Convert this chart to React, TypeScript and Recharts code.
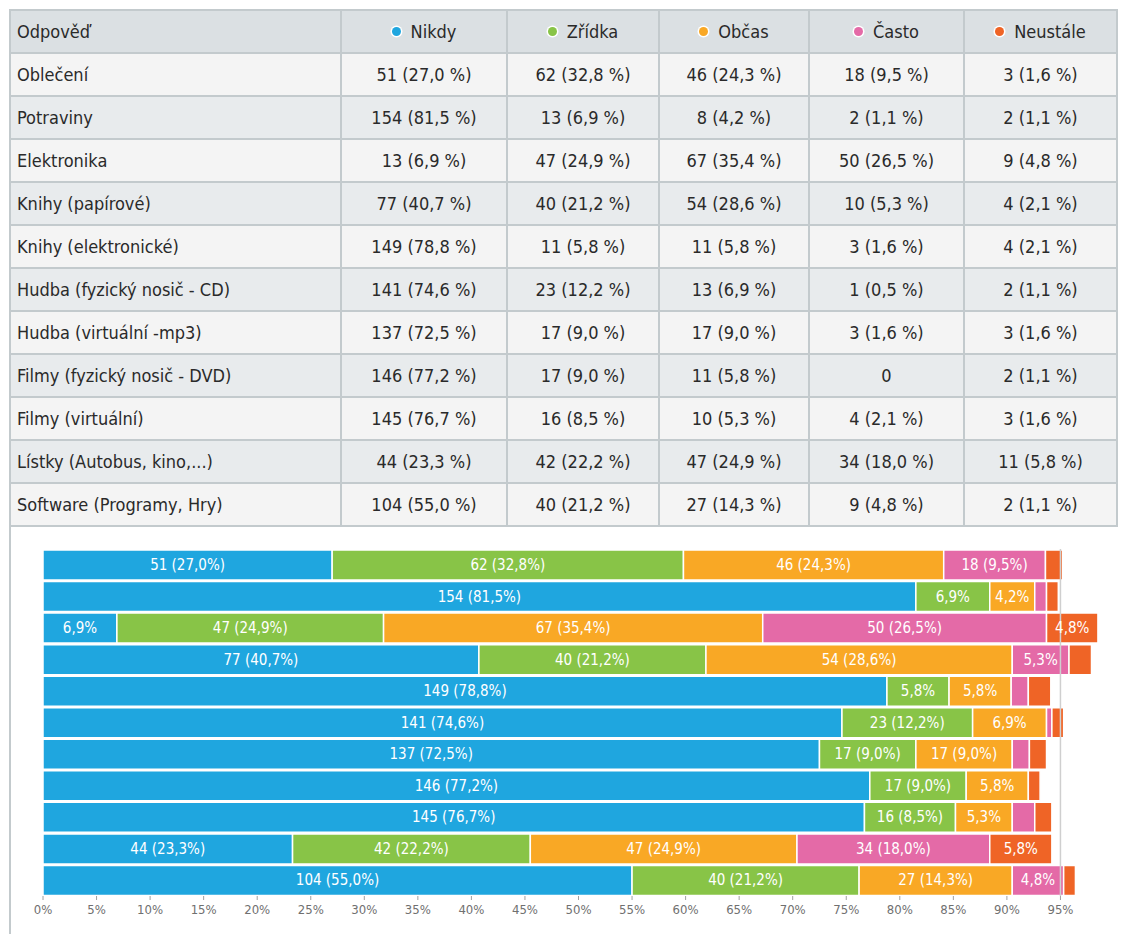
import React from "react";
import {
  Bar,
  BarChart,
  LabelList,
  ReferenceLine,
  XAxis,
  YAxis,
} from "recharts";

// Odpovědi z dotazníku, 189 respondentů
const categories = [
  "Oblečení",
  "Potraviny",
  "Elektronika",
  "Knihy (papírové)",
  "Knihy (elektronické)",
  "Hudba (fyzický nosič - CD)",
  "Hudba (virtuální -mp3)",
  "Filmy (fyzický nosič - DVD)",
  "Filmy (virtuální)",
  "Lístky (Autobus, kino,...)",
  "Software (Programy, Hry)",
];

const nikdyCount = [51, 154, 13, 77, 149, 141, 137, 146, 145, 44, 104];
const nikdyPct = [27.0, 81.5, 6.9, 40.7, 78.8, 74.6, 72.5, 77.2, 76.7, 23.3, 55.0];
const zridkaCount = [62, 13, 47, 40, 11, 23, 17, 17, 16, 42, 40];
const zridkaPct = [32.8, 6.9, 24.9, 21.2, 5.8, 12.2, 9.0, 9.0, 8.5, 22.2, 21.2];
const obcasCount = [46, 8, 67, 54, 11, 13, 17, 11, 10, 47, 27];
const obcasPct = [24.3, 4.2, 35.4, 28.6, 5.8, 6.9, 9.0, 5.8, 5.3, 24.9, 14.3];
const castoCount = [18, 2, 50, 10, 3, 1, 3, 0, 4, 34, 9];
const castoPct = [9.5, 1.1, 26.5, 5.3, 1.6, 0.5, 1.6, 0, 2.1, 18.0, 4.8];
const neustaleCount = [3, 2, 9, 4, 4, 2, 3, 2, 3, 11, 2];
const neustalePct = [1.6, 1.1, 4.8, 2.1, 2.1, 1.1, 1.6, 1.1, 1.6, 5.8, 1.1];

const xTicks = [0, 5, 10, 15, 20, 25, 30, 35, 40, 45, 50, 55, 60, 65, 70, 75, 80, 85, 90, 95];
const yMarks = [0.5, 3, 5.5, 8, 10.5];

const series = [
  { key: "nikdy", name: "Nikdy", color: "#1fa6df", counts: nikdyCount, pcts: nikdyPct },
  { key: "zridka", name: "Zřídka", color: "#88c447", counts: zridkaCount, pcts: zridkaPct },
  { key: "obcas", name: "Občas", color: "#f9a825", counts: obcasCount, pcts: obcasPct },
  { key: "casto", name: "Často", color: "#e46aa7", counts: castoCount, pcts: castoPct },
  { key: "neustale", name: "Neustále", color: "#ef6426", counts: neustaleCount, pcts: neustalePct },
];

const cz = (v: number) => v.toFixed(1).replace(".", ",");

const rows = categories.map((name, i) => {
  const row: Record<string, string | number> = { name };
  series.forEach((s) => {
    row[s.key] = s.pcts[i];
    row[`${s.key}Label`] = `${s.counts[i]} (${cz(s.pcts[i])}%)`;
  });
  return row;
});

const BORDER = "#c3cacd";
const INK = "#2a2a2a";
const MARK = "#a0a0a0";
const TABLE_FONT = '"DejaVu Sans Condensed", "DejaVu Sans", sans-serif';
const CHART_FONT = '"DejaVu Sans Condensed", "DejaVu Sans", sans-serif';

// krátké čárky nad grafem a vlevo od něj, bez popisků
const topMark = (p: any) => (
  <line x1={p.x} x2={p.x} y1={p.y - 4} y2={p.y} stroke={MARK} strokeWidth={1} />
);
const leftMark = (p: any) => (
  <line x1={p.x - 6} x2={p.x - 1} y1={p.y} y2={p.y} stroke={MARK} strokeWidth={1} />
);

// plný popisek jen když se vejde, jinak jen procenta, u úzkých nic
const renderSegmentLabel = (props: any) => {
  const { x, y, width, height, value } = props;
  if (!value || width < 38) return null;
  const full = String(value);
  const m = full.match(/\((.*)\)/);
  const text = width >= 80 ? full : m ? m[1] : full;
  return (
    <text
      x={x + width / 2}
      y={y + height / 2}
      textAnchor="middle"
      dominantBaseline="central"
      fill="#ffffff"
      fontSize={15}
      fontFamily={CHART_FONT}
    >
      {text}
    </text>
  );
};

function Dot({ color }: { color: string }) {
  return (
    <span
      style={{
        display: "inline-block",
        width: 9,
        height: 9,
        borderRadius: "50%",
        background: color,
        boxShadow: "0 0 0 1.5px #ffffff",
        marginRight: 10,
        verticalAlign: "middle",
        position: "relative",
        top: -2,
      }}
    />
  );
}

const colWidths = [331, 166, 152, 150, 155, 153];

function DataTable() {
  const cell: React.CSSProperties = {
    border: `2px solid ${BORDER}`,
    padding: "0 6px",
    height: 41,
    fontSize: 18,
    color: INK,
    whiteSpace: "nowrap",
  };
  return (
    <table
      style={{
        position: "absolute",
        left: 9,
        top: 9,
        width: 1109,
        borderCollapse: "collapse",
        tableLayout: "fixed",
        fontFamily: TABLE_FONT,
      }}
    >
      <colgroup>
        {colWidths.map((w, i) => (
          <col key={i} style={{ width: w }} />
        ))}
      </colgroup>
      <thead>
        <tr style={{ background: "#dbe0e3" }}>
          <th style={{ ...cell, textAlign: "left", fontWeight: 400 }}>Odpověď</th>
          {series.map((s) => (
            <th key={s.key} style={{ ...cell, textAlign: "center", fontWeight: 400 }}>
              <Dot color={s.color} />
              {s.name}
            </th>
          ))}
        </tr>
      </thead>
      <tbody>
        {categories.map((c, i) => (
          <tr key={c} style={{ background: i % 2 === 0 ? "#f4f4f4" : "#e8ebed" }}>
            <td style={{ ...cell, textAlign: "left" }}>{c}</td>
            {series.map((s) => (
              <td key={s.key} style={{ ...cell, textAlign: "center" }}>
                {s.counts[i] === 0 ? "0" : `${s.counts[i]} (${cz(s.pcts[i])} %)`}
              </td>
            ))}
          </tr>
        ))}
      </tbody>
    </table>
  );
}

export default function App() {
  return (
    <div
      style={{
        position: "absolute",
        left: 0,
        top: 0,
        width: 1125,
        height: 934,
        background: "#ffffff",
        overflow: "hidden",
      }}
    >
      <div
        style={{
          position: "absolute",
          left: 9,
          top: 520,
          width: 2,
          height: 414,
          background: BORDER,
        }}
      />
      <DataTable />
      <div style={{ position: "absolute", left: 0, top: 530 }}>
        <BarChart
          width={1125}
          height={404}
          data={rows}
          layout="vertical"
          margin={{ top: 14, right: 11, bottom: 8, left: 0 }}
          barCategoryGap={1}
        >
          <XAxis
            type="number"
            domain={[0, 100]}
            ticks={xTicks}
            tickFormatter={(v) => `${v}%`}
            axisLine={false}
            tickSize={4}
            tickMargin={5}
            tickLine={{ stroke: MARK }}
            tick={{ fontSize: 13, fill: "#707070", fontFamily: CHART_FONT }}
            height={30}
            interval={0}
          />
          <XAxis
            xAxisId="top"
            orientation="top"
            type="number"
            domain={[0, 100]}
            ticks={xTicks}
            axisLine={false}
            tickLine={false}
            tickSize={0}
            tickMargin={0}
            tick={topMark}
            height={5}
            interval={0}
          />
          <YAxis type="category" dataKey="name" hide />
          <YAxis
            yAxisId="marks"
            type="number"
            domain={[0, 11]}
            allowDataOverflow
            reversed
            ticks={yMarks}
            width={43}
            axisLine={false}
            tickLine={false}
            tickSize={0}
            tickMargin={0}
            tick={leftMark}
            interval={0}
          />
          <ReferenceLine x={95} stroke="#cfcfcf" strokeWidth={1.5} />
          {series.map((s) => (
            <Bar
              key={s.key}
              dataKey={s.key}
              name={s.name}
              stackId="a"
              fill={s.color}
              stroke="#ffffff"
              strokeWidth={1.5}
              isAnimationActive={false}
            >
              <LabelList dataKey={`${s.key}Label`} content={renderSegmentLabel} />
            </Bar>
          ))}
        </BarChart>
      </div>
    </div>
  );
}
